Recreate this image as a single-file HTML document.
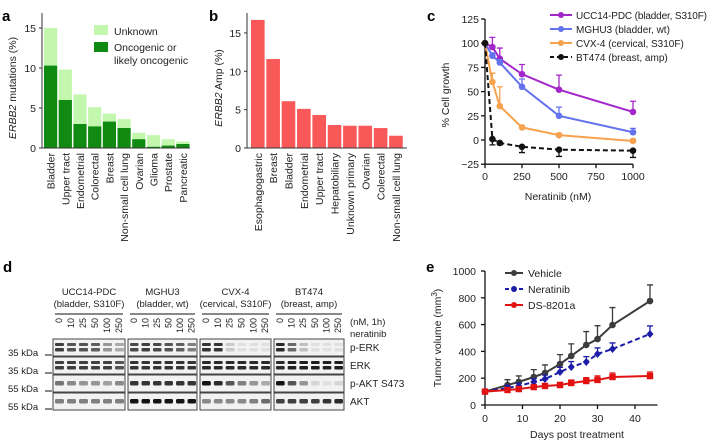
<!DOCTYPE html>
<html><head><meta charset="utf-8">
<style>
html,body{margin:0;padding:0;background:#fff;}
svg{display:block;font-family:"Liberation Sans",Arial,sans-serif;}
</style></head>
<body>
<svg id="fig" width="709" height="444" viewBox="0 0 709 444">
  <g id="pa"></g>
  <g id="pb"></g>
  <g id="pc"></g>
  <g id="pd"></g>
  <g id="pe"></g>
</svg>
<script>
// ---------- data ----------
const aCats = ["Bladder","Upper tract","Endometrial","Colorectal","Breast","Non-small cell lung","Ovarian","Glioma","Prostate","Pancreatic"];
const aTotal = [15,9.8,6.7,5.1,4.3,3.6,1.9,1.6,1.1,0.8];
const aOnco = [10.3,6.0,3.0,2.7,3.3,2.5,1.1,0.15,0.3,0.5];
const aTicks = [0,5,10,15];
const bCats = ["Esophagogastric","Breast","Bladder","Endometrial","Upper tract","Hepatobiliary","Unknown primary","Ovarian","Colerectal","Non-small cell lung"];
const bVals = [16.7,11.6,6.1,5.1,4.3,3.0,2.9,2.9,2.6,1.6];
const bTicks = [0,5,10,15];
const cDoses = [0,50,100,250,500,1000];
const cUCC = [100,96,84,68,52,29];
const cUCCerr = [0,10,11,10,15,11];
const cMGH = [100,87,80,55,25,8];
const cMGHerr = [0,3,3,8,9,4];
const cCVX = [100,60,35,13,5,-1];
const cCVXerr = [0,9,20,2,2,2];
const cBT = [100,1,-3,-7,-10,-11];
const cBTerr = [0,6,2,6,7,7];
const cYTicks = [-25,0,25,50,75,100,125];
const cXTicks = [0,250,500,750,1000];
const eDays = [0,6,9,13,16,20,23,27,30,34,44];
const eVeh = [100,149,172,209,239,306,366,448,492,597,776];
const eVehErr = [0,40,45,55,60,70,90,100,100,130,120];
const eNer = [100,127,142,172,194,246,284,321,381,418,530];
const eNerErr = [0,20,20,25,30,35,40,40,45,45,60];
const eDS = [100,112,119,134,142,149,164,179,187,209,216];
const eDSerr = [0,15,15,18,18,20,22,25,30,30,30];
const eYTicks = [0,200,400,600,800,1000];
const eXTicks = [0,10,20,30,40];

const NS="http://www.w3.org/2000/svg";
const FS=10.5;
function mk(parent, tag, attrs){const e=document.createElementNS(NS,tag);for(const k in attrs)e.setAttribute(k,attrs[k]);parent.appendChild(e);return e;}
function txt(parent,x,y,s,attrs){const e=mk(parent,"text",Object.assign({x:x,y:y,"font-size":FS,fill:"#222"},attrs||{}));e.textContent=s;return e;}

// ---------- panel a ----------
(function(){
const g=document.getElementById("pa");
const x0=42, y0=148, py=8, bw=13.2, step=14.7;
const Y=v=>y0-v*py;
let el=txt(g,2,21,"a",{"font-size":15,"font-weight":"bold",fill:"#000"});

aCats.forEach((c,i)=>{
  const x=x0+2+i*step;
  let r=mk(g,"rect",{x:x,y:Y(aTotal[i]),width:bw,height:(aTotal[i])*py,fill:"#c2f7ad"});
  
  let r2=mk(g,"rect",{x:x,y:Y(aOnco[i]),width:bw,height:aOnco[i]*py,fill:"#118a11"});
  
  let t=txt(g,0,0,c,{"text-anchor":"end",transform:`translate(${x+bw/2+4},${y0+5}) rotate(-90)`});
  
});
let ax=mk(g,"path",{d:`M${x0},13V${y0}H${x0+148}`,stroke:"#333",fill:"none","stroke-width":1});

aTicks.forEach(v=>{
  let tk=mk(g,"line",{x1:x0-3,x2:x0,y1:Y(v),y2:Y(v),stroke:"#333"});
  
  let t=txt(g,x0-6,Y(v)+4,String(v),{"text-anchor":"end"});
  
});
let yt=txt(g,0,0,"",{"text-anchor":"middle",transform:"translate(16,88) rotate(-90)"});
yt.innerHTML='<tspan font-style="italic">ERBB2</tspan> mutations (%)';

let l1=mk(g,"rect",{x:94,y:25,width:14,height:10,fill:"#c2f7ad"});

let lt=txt(g,114,35,"Unknown");
let l2=mk(g,"rect",{x:94,y:42,width:14,height:10,fill:"#118a11"});

let lt2=txt(g,114,51,"Oncogenic or");
let lt3=txt(g,114,64,"likely oncogenic");
})();

// ---------- panel b ----------
(function(){
const g=document.getElementById("pb");
const x0=247, y0=148, py=7.67, bw=13.6, step=15.35;
const Y=v=>y0-v*py;
let el=txt(g,209,21,"b",{"font-size":15,"font-weight":"bold",fill:"#000"});

bCats.forEach((c,i)=>{
  const x=x0+4+i*step;
  let r=mk(g,"rect",{x:x,y:Y(bVals[i]),width:bw,height:bVals[i]*py,fill:"#f85858"});
  
  let t=txt(g,0,0,c,{"text-anchor":"end",transform:`translate(${x+bw/2+4},${y0+5}) rotate(-90)`});
  
});
let ax=mk(g,"path",{d:`M${x0},13V${y0}H${x0+160}`,stroke:"#333",fill:"none"});

bTicks.forEach(v=>{
  let tk=mk(g,"line",{x1:x0-3,x2:x0,y1:Y(v),y2:Y(v),stroke:"#333"});
  
  let t=txt(g,x0-6,Y(v)+4,String(v),{"text-anchor":"end"});
  
});
let yt=txt(g,0,0,"",{"text-anchor":"middle",transform:"translate(222,88) rotate(-90)"});
yt.innerHTML='<tspan font-style="italic">ERBB2</tspan> Amp (%)';

})();

// ---------- panel c ----------
(function(){
const g=document.getElementById("pc");
const X=v=>485+v*0.148, Y=v=>140-v*0.968;
let el=txt(g,427,21,"c",{"font-size":15,"font-weight":"bold",fill:"#000"});

let ax=mk(g,"path",{d:`M${X(0)},${Y(125)}V${Y(-25)}H${X(1000)}`,stroke:"#111",fill:"none","stroke-width":1.3});

cYTicks.forEach(v=>{
  let tk=mk(g,"line",{x1:X(0)-4,x2:X(0),y1:Y(v),y2:Y(v),stroke:"#111","stroke-width":1.3});
  
  let t=txt(g,X(0)-6,Y(v)+4,v<0?"−"+(-v):String(v),{"text-anchor":"end"});
  
});
cXTicks.forEach(v=>{
  let tk=mk(g,"line",{x1:X(v),x2:X(v),y1:Y(-25),y2:Y(-25)+4,stroke:"#111","stroke-width":1.3});
  
  let t=txt(g,X(v),Y(-25)+16,String(v),{"text-anchor":"middle"});
  
});
let xt=txt(g,558,200,"Neratinib (nM)",{"text-anchor":"middle"});

let yt=txt(g,0,0,"% Cell growth",{"text-anchor":"middle",transform:"translate(449,95) rotate(-90)"});

const series=[[cUCC,cUCCerr,"#a326c9","ucc14",1],[cMGH,cMGHerr,"#6472ee","mghu3",1],[cCVX,cCVXerr,"#f7a24e","cvx4",1],[cBT,cBTerr,"#111","bt474",-1]];
series.forEach(s=>{
  const [vals,err,col,nm,dir]=s;
  vals.forEach((v,i)=>{ if(err[i]>0){
    const y2=Y(v+dir*err[i]);
    let eb=mk(g,"path",{d:`M${X(cDoses[i])},${Y(v)}V${y2}M${X(cDoses[i])-3},${y2}h6`,stroke:col,"stroke-width":1.3,fill:"none"});
    
  }});
  let ln=mk(g,"polyline",{points:vals.map((v,i)=>X(cDoses[i])+","+Y(v)).join(" "),fill:"none",stroke:col,"stroke-width":2,"stroke-dasharray":nm==="bt474"?"5,3":"none"});
  
  vals.forEach((v,i)=>{
    let p=mk(g,"circle",{cx:X(cDoses[i]),cy:Y(v),r:3.3,fill:col});
    
  });
});
const leg=[["UCC14-PDC (bladder, S310F)","#a326c9",0],["MGHU3 (bladder, wt)","#6472ee",0],["CVX-4 (cervical, S310F)","#f7a24e",0],["BT474 (breast, amp)","#111",1]];
leg.forEach((l,i)=>{
  const y=15+i*14;
  let ll=mk(g,"line",{x1:550,x2:572,y1:y,y2:y,stroke:l[1],"stroke-width":2,"stroke-dasharray":l[2]?"4,3":"none"});
  
  let lc=mk(g,"circle",{cx:561,cy:y,r:3,fill:l[1]});
  
  let lt=txt(g,576,y+4,l[0],{"font-size":10,textLength:i===0?131:null});
  if(i!==0) lt.removeAttribute('textLength');
  
});
})();

// ---------- panel d (western blot) ----------
const dGroups=[["UCC14-PDC","(bladder, S310F)"],["MGHU3","(bladder, wt)"],["CVX-4","(cervical, S310F)"],["BT474","(breast, amp)"]];
const dDoses=["0","10","25","50","100","250"];
const dRows=["p-ERK","ERK","p-AKT S473","AKT"];
const dKda=["35 kDa","35 kDa","55 kDa","55 kDa"];
// band intensity per group/row/lane (0..1)
const dInt=[
 [[0.8,0.7,0.7,0.65,0.4,0.3],[0.8,0.8,0.8,0.8,0.8,0.7],[0.55,0.45,0.4,0.4,0.35,0.45],[0.5,0.5,0.5,0.5,0.5,0.5]],
 [[0.75,0.8,0.75,0.7,0.65,0.5],[0.85,0.85,0.85,0.85,0.85,0.85],[0.85,0.85,0.85,0.85,0.85,0.85],[1,1,1,1,1,1]],
 [[0.85,0.85,0.15,0.05,0.05,0.05],[0.9,0.9,0.9,0.9,0.9,0.9],[1,0.9,0.7,0.5,0.4,0.3],[0.45,0.45,0.45,0.45,0.5,0.6]],
 [[0.9,0.6,0.2,0.05,0.05,0.05],[0.9,0.95,0.95,0.95,0.95,0.95],[1,0.7,0.4,0.1,0.05,0.1],[0.8,0.8,0.8,0.8,0.85,0.9]]
];
(function(){
const g=document.getElementById("pd");
let el=txt(g,3,272,"d",{"font-size":15,"font-weight":"bold",fill:"#000"});

const gx=[53,128,200,274], gw=[72,69,71,70];
const ry=[339,357,375,393], rh=17;
dGroups.forEach((gr,gi)=>{
  const cx=gx[gi]+gw[gi]/2;
  let t1=txt(g,cx,295,gr[0],{"text-anchor":"middle","font-size":9.5});
  
  let t2=txt(g,cx,307,gr[1],{"text-anchor":"middle","font-size":9.5});
  
  let ul=mk(g,"line",{x1:gx[gi]+2,x2:gx[gi]+gw[gi]-2,y1:314,y2:314,stroke:"#111"});
  
  const lw=gw[gi]/6;
  dDoses.forEach((d,li)=>{
    let dt=txt(g,0,0,d,{"text-anchor":"end","font-size":9,transform:`translate(${gx[gi]+lw*(li+0.5)+3},318) rotate(-90)`});
    
  });
  dRows.forEach((r,ri)=>{
    let box=mk(g,"rect",{x:gx[gi],y:ry[ri],width:gw[gi],height:rh,fill:"#f2f2f2",stroke:"#444","stroke-width":1});
    
    dInt[gi][ri].forEach((v,li)=>{
      const sh=Math.round(235-v*215);
      const c=`rgb(${sh},${sh},${sh})`;
      const bx=gx[gi]+lw*li+2, bwid=lw-3;
      const double=(ri<2);
      if(double){
        let b1=mk(g,"rect",{x:bx,y:ry[ri]+4,width:bwid,height:3,fill:c,rx:1});
        
        let b2=mk(g,"rect",{x:bx,y:ry[ri]+9,width:bwid,height:3.5,fill:c,rx:1});
        
      } else {
        let b=mk(g,"rect",{x:bx,y:ry[ri]+6,width:bwid,height:4.5,fill:c,rx:1.5});
        
      }
    });
  });
});
dRows.forEach((r,ri)=>{
  let t=txt(g,350,ry[ri]+12,r,{"font-size":10});
  
  let k=txt(g,8,ry[ri]+17,dKda[ri],{"font-size":9.5});
  
  let km=mk(g,"line",{x1:45,x2:52,y1:ry[ri]+rh-1,y2:ry[ri]+rh-1,stroke:"#111"});
  
});
let n1=txt(g,350,325,"(nM, 1h)",{"font-size":9.5});

let n2=txt(g,350,337,"neratinib",{"font-size":9.5});

})();

// ---------- panel e ----------
(function(){
const g=document.getElementById("pe");
const X=v=>485+v*3.75, Y=v=>405-v*0.134;
let el=txt(g,426,272,"e",{"font-size":15,"font-weight":"bold",fill:"#000"});

let ax=mk(g,"path",{d:`M${X(0)},${Y(1000)}V${Y(0)}H${X(46)}`,stroke:"#111",fill:"none","stroke-width":1.3});

eYTicks.forEach(v=>{
  let tk=mk(g,"line",{x1:X(0)-4,x2:X(0),y1:Y(v),y2:Y(v),stroke:"#111","stroke-width":1.3});
  
  let t=txt(g,X(0)-9,Y(v)+4,String(v),{"text-anchor":"end"});
  
});
eXTicks.forEach(v=>{
  let tk=mk(g,"line",{x1:X(v),x2:X(v),y1:Y(0),y2:Y(0)+4,stroke:"#111","stroke-width":1.3});
  
  let t=txt(g,X(v),Y(0)+17,String(v),{"text-anchor":"middle"});
  
});
let xt=txt(g,577,438,"Days post treatment",{"text-anchor":"middle"});

let yt=txt(g,0,0,"",{"text-anchor":"middle",transform:"translate(441,338) rotate(-90)"});
yt.innerHTML='Tumor volume (mm<tspan dy="-4" font-size="8">3</tspan><tspan dy="4">)</tspan>';

const series=[[eVeh,eVehErr,"#3c3c3c","vehicle","circle",0],[eNer,eNerErr,"#1c1ca8","neratinib","diamond",1],[eDS,eDSerr,"#e21212","ds8201a","square",0]];
series.forEach(s=>{
  const [vals,err,col,nm,shape,dash]=s;
  vals.forEach((v,i)=>{ if(err[i]>0){
    const y2=Y(v+err[i]);
    let eb=mk(g,"path",{d:`M${X(eDays[i])},${Y(v)}V${y2}M${X(eDays[i])-3},${y2}h6`,stroke:col,"stroke-width":1.3,fill:"none"});
    
  }});
  let ln=mk(g,"polyline",{points:vals.map((v,i)=>X(eDays[i])+","+Y(v)).join(" "),fill:"none",stroke:col,"stroke-width":2,"stroke-dasharray":dash?"5,3":"none"});
  
  vals.forEach((v,i)=>{
    const x=X(eDays[i]), y=Y(v);
    let p;
    if(shape==="circle") p=mk(g,"circle",{cx:x,cy:y,r:3.3,fill:col});
    else if(shape==="square") p=mk(g,"rect",{x:x-3.2,y:y-3.2,width:6.4,height:6.4,fill:col});
    else p=mk(g,"path",{d:`M${x},${y-4}L${x+3.5},${y}L${x},${y+4}L${x-3.5},${y}Z`,fill:col});
    
  });
});
const leg=[["Vehicle","#3c3c3c",0],["Neratinib","#1c1ca8",1],["DS-8201a","#e21212",0]];
leg.forEach((l,i)=>{
  const y=273+i*16;
  let ll=mk(g,"line",{x1:505,x2:523,y1:y,y2:y,stroke:l[1],"stroke-width":2,"stroke-dasharray":l[2]?"4,3":"none"});
  
  let lc=mk(g,"circle",{cx:514,cy:y,r:3,fill:l[1]});
  
  let lt=txt(g,528,y+4,l[0]);
  
});
})();
</script>
</body></html>
